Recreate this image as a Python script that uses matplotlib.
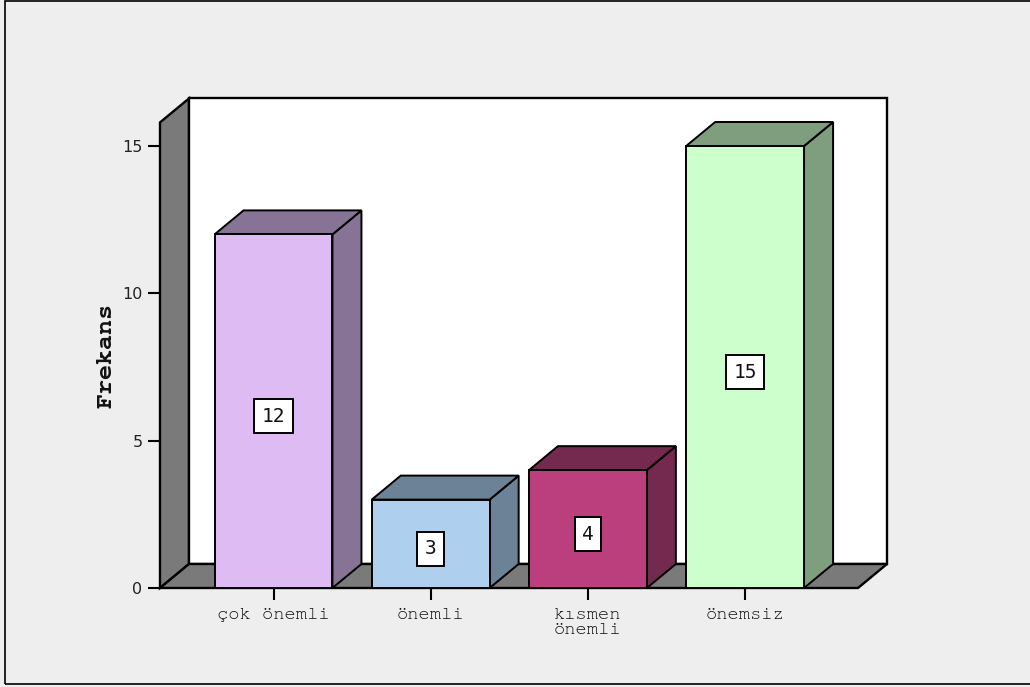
import matplotlib
matplotlib.use("Agg")
import logging
logging.getLogger("matplotlib.font_manager").setLevel(logging.ERROR)
import matplotlib.pyplot as plt
from matplotlib.patches import Polygon, Rectangle
from matplotlib import font_manager

# ---- data ----
categories = ["çok önemli", "önemli", "kısmen\nönemli", "önemsiz"]
values = [12, 3, 4, 15]
front_colors = ["#DFBBF4", "#AED0EE", "#BB3E7D", "#CCFFCC"]
side_colors = ["#877395", "#6C8296", "#732A4E", "#7E9E7E"]
yticks = [0, 5, 10, 15]
ylabel = "Frekans"

available = {f.name for f in font_manager.fontManager.ttflist}
mono = "Liberation Mono"
for cand in ["Courier New", "Nimbus Mono PS", "Nimbus Mono L", "FreeMono", "Courier 10 Pitch"]:
    if cand in available:
        mono = cand
        break

W, H = 1030, 687
fig = plt.figure(figsize=(W / 100, H / 100), dpi=100)
fig.patch.set_facecolor("#EEEEEE")

# outer frame
fig.patches.append(Rectangle((5 / W, 3 / H), 1.2, 683 / H, transform=fig.transFigure,
                             fill=False, ec="black", lw=1.2))

ax = fig.add_axes([160 / W, 99 / H, 698 / W, 442 / H])
ax.set_facecolor("none")
xl, xr = -0.722, 3.718
ax.set_xlim(xl, xr)
ax.set_ylim(0, 15)
for s in ax.spines.values():
    s.set_visible(False)

dx, dy = 0.1845, 0.8145   # 3D depth offset (data units)
top = 15.8
lw_wall = 1.7
lw_bar = 1.4

# left wall
ax.add_patch(Polygon([(xl, 0), (xl, top), (xl + dx, top + dy), (xl + dx, dy)],
                     closed=True, fc="#7A7A7A", ec="black", lw=lw_wall, clip_on=False, zorder=1))
# back wall
ax.add_patch(Polygon([(xl + dx, dy), (xl + dx, top + dy), (xr + dx, top + dy), (xr + dx, dy)],
                     closed=True, fc="white", ec="black", lw=lw_wall, clip_on=False, zorder=1))
# floor
ax.add_patch(Polygon([(xl, 0), (xr, 0), (xr + dx, dy), (xl + dx, dy)],
                     closed=True, fc="#7A7A7A", ec="black", lw=lw_wall, clip_on=False, zorder=2))

bw = 0.75
for i, (v, fc, sc) in enumerate(zip(values, front_colors, side_colors)):
    x0, x1 = i - bw / 2, i + bw / 2
    # side
    ax.add_patch(Polygon([(x1, 0), (x1, v), (x1 + dx, v + dy), (x1 + dx, dy)],
                         closed=True, fc=sc, ec="black", lw=lw_bar, clip_on=False, zorder=3))
    # top
    ax.add_patch(Polygon([(x0, v), (x1, v), (x1 + dx, v + dy), (x0 + dx, v + dy)],
                         closed=True, fc=sc, ec="black", lw=lw_bar, clip_on=False, zorder=3))
    # front
    ax.add_patch(Rectangle((x0, 0), bw, v, fc=fc, ec="black", lw=lw_bar, clip_on=False, zorder=4))
    ax.text(i, v / 2 - 0.17, str(v), ha="center", va="center", fontsize=14,
            family="DejaVu Sans Mono", color="#111111", zorder=6,
            bbox=dict(boxstyle="square,pad=0.38", fc="white", ec="black", lw=1.4))

ax.set_yticks(yticks)
ax.set_yticklabels([str(t) for t in yticks], family="DejaVu Sans", fontsize=11.5, color="#222222")
ax.tick_params(axis="y", length=8.6, width=1.5, pad=4)
ax.set_xticks(range(len(categories)))
ax.set_xticklabels(categories, family=mono, fontsize=13.5, color="#111111", linespacing=1.1)
ax.tick_params(axis="x", length=8.6, width=1.5, pad=6)

fig.text(107 / W, (H - 355) / H, ylabel, rotation=90, ha="center", va="center",
         family=mono, fontweight="bold", fontsize=18, color="#111111")

fig.savefig("out.png", dpi=100, facecolor=fig.get_facecolor())
